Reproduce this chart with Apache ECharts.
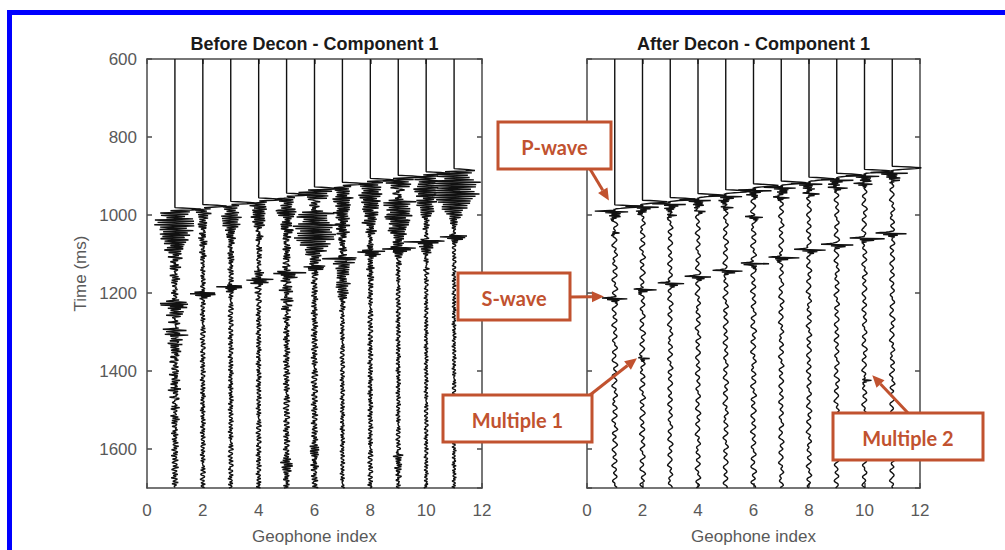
<!DOCTYPE html>
<html>
<head>
<meta charset="utf-8">
<script src="https://cdn.jsdelivr.net/npm/echarts@6/dist/echarts.min.js"></script>
<style>
html,body{margin:0;padding:0;background:#fff;}
#chart{width:1005px;height:550px;}
</style>
</head>
<body>
<div id="chart"></div>
<script>
// ---------------- DATA ----------------
const geophones = [1, 2, 3, 4, 5, 6, 7, 8, 9, 10, 11];
const panelTitles = ['Before Decon - Component 1', 'After Decon - Component 1'];
const timeMin = 600, timeMax = 1700, timeStep = 200;
const indexMin = 0, indexMax = 12, indexStep = 2;

// P first-arrival times (ms) and first-lobe amplitudes (trace units)
const beforeP = [981, 973, 965, 956, 944, 928, 916, 906, 898, 889, 881];
const beforeLobeAmp = [0.9, 0.85, 0.85, 0.85, 0.85, 0.85, 0.85, 0.85, 0.85, 0.85, 0.65];
const afterP = [974, 962, 955, 945, 935, 920, 913, 903, 893, 883, 875];
const afterLobeAmp = [0.95, 0.9, 0.9, 0.9, 0.9, 0.9, 0.9, 0.9, 0.9, 0.95, 1.05];

// ringing events before decon: [geophone, time ms, amplitude]
const beforeRings = [
  [1, 986, 0.55], [1, 1010, 0.4], [1, 1045, 0.3], [1, 1080, 0.2], [1, 1218, 0.3], [1, 1290, 0.28], [1, 1330, 0.18], [1, 1400, 0.15], [1, 1440, 0.15],
  [2, 978, 0.28], [2, 1010, 0.15], [2, 1050, 0.1],
  [3, 970, 0.28], [3, 1000, 0.2], [3, 1040, 0.12], [3, 1090, 0.1],
  [4, 961, 0.3], [4, 990, 0.2], [4, 1030, 0.15], [4, 1130, 0.12],
  [5, 949, 0.3], [5, 980, 0.25], [5, 1020, 0.2], [5, 1060, 0.15], [5, 1130, 0.18], [5, 1190, 0.12], [5, 1620, 0.2],
  [6, 933, 0.6], [6, 960, 0.55], [6, 990, 0.5], [6, 1020, 0.4], [6, 1050, 0.25], [6, 1590, 0.15],
  [7, 921, 0.3], [7, 950, 0.28], [7, 985, 0.25], [7, 1020, 0.22], [7, 1060, 0.18], [7, 1110, 0.35], [7, 1170, 0.15],
  [8, 911, 0.45], [8, 940, 0.32], [8, 975, 0.22], [8, 1010, 0.15], [8, 1075, 0.12], [8, 1130, 0.1],
  [9, 903, 0.55], [9, 930, 0.5], [9, 960, 0.45], [9, 995, 0.35], [9, 1030, 0.2], [9, 1610, 0.15],
  [10, 894, 0.45], [10, 925, 0.3], [10, 960, 0.18], [10, 1060, 0.2],
  [11, 886, 0.65], [11, 910, 0.5], [11, 940, 0.3]
];
// S-wave and other sharp bars before decon: [geophone, time ms, amplitude]
const beforeBars = [
  [1, 1225, 0.55], [2, 1196, 0.5], [3, 1178, 0.45], [4, 1161, 0.5], [5, 1144, 0.5], [6, 1127, 0.45],
  [7, 1106, 0.5], [8, 1089, 0.5], [9, 1081, 0.55], [10, 1063, 0.6], [11, 1050, 0.5],
  [1, 1300, 0.3], [1, 1320, 0.2]
];
// S-wave, multiples and other bars after decon: [geophone, time ms, amplitude]
const afterBars = [
  [1, 1209, 0.5], [2, 1186, 0.45], [3, 1170, 0.5], [4, 1153, 0.5], [5, 1138, 0.55], [6, 1119, 0.55],
  [7, 1104, 0.6], [8, 1084, 0.6], [9, 1071, 0.6], [10, 1055, 0.65], [11, 1042, 0.6],
  [2, 1362, 0.22], [10, 1418, 0.18], [6, 1000, 0.35], [6, 1125, 0.3], [7, 950, 0.3], [8, 940, 0.3],
  [9, 925, 0.3], [10, 915, 0.3], [11, 905, 0.3], [5, 975, 0.25], [4, 985, 0.2], [3, 995, 0.2], [1, 1040, 0.15]
];

// wavelet shapes (estimated), sample steps in ms
const lobeBefore = [0, 0.6, 1.0, 0.7, 0.3, 0];                            // 2 ms
const lobeAfter = [0, 0.6, 1.0, 0.8, 0.35, 0.05, -0.05, 0.05, -0.7, 0.6, -0.3, 0.25, -0.15, 0.15, -0.25, 0.2, -0.1, 0.12, -0.08, 0.06, -0.04, 0]; // 2 ms
const ringWave = [0.3, -0.8, 1.0, -0.95, 0.7, -0.9, 0.85, -0.55, 0.8, -0.75, 0.7, -0.45, 0.65, -0.6, 0.55, -0.58, 0.35, -0.5, 0.48, -0.45,
  0.42, -0.3, 0.38, -0.35, 0.33, -0.3, 0.2, -0.27, 0.24, -0.22, 0.2, -0.12, 0.17, -0.15, 0.12, -0.1, 0.08, -0.06, 0.04, 0]; // 3 ms
const barBefore = [0, -0.4, 0.9, -1.0, 0.8, -0.5, 0.6, -0.3, 0.3, -0.15, 0.1, 0];   // 2 ms
const barAfter = [0, -0.35, -0.9, 1.0, -0.4, 0.45, -0.2, 0.15, -0.08, 0];            // 2 ms

// background wiggle (estimated texture)
const beforeNoise = [0.00, 0.06, -0.04, 0.08, -0.07, 0.03, 0.09, -0.05, -0.08, 0.04, 0.07, -0.02, -0.09, 0.05, 0.02, -0.06, 0.08, -0.03, -0.07, 0.06,
  0.09, -0.04, 0.01, -0.08, 0.05, 0.07, -0.06, -0.02, 0.08, -0.05, 0.04, -0.09, 0.03, 0.06, -0.04, 0.07, -0.08, 0.02, 0.05, -0.06,
  0.09, -0.03, -0.07, 0.04, 0.08, -0.05, 0.02, -0.09, 0.06, 0.03, -0.04, 0.07, -0.06, -0.02, 0.08, -0.07, 0.05, 0.01, -0.08, 0.06,
  -0.03, 0.09, -0.05, 0.04, -0.07, 0.02, 0.06, -0.08, 0.05, -0.01, 0.07, -0.06, 0.03, -0.09, 0.08, -0.04, 0.02, 0.06, -0.07, 0.04,
  -0.05, 0.08, -0.02, -0.06, 0.09, -0.03, 0.05, -0.08, 0.01, 0.07, -0.04, 0.06, -0.09, 0.03, 0.05, -0.06, 0.08, -0.02, -0.07, 0.04,
  0.06, -0.05, 0.09, -0.03, -0.08, 0.05, 0.02, -0.06, 0.07, -0.04, 0.03, -0.09, 0.06, 0.01, -0.05, 0.08, -0.07, 0.04, -0.02, 0.00]; // 3 ms
const afterNoise = [0.00, 0.05, 0.09, 0.07, 0.01, -0.05, -0.08, -0.04, 0.02, 0.04, 0.02, -0.03, -0.07, -0.09, -0.05, 0.03, 0.08, 0.10, 0.06, -0.01,
  -0.04, -0.02, 0.03, 0.06, 0.02, -0.05, -0.09, -0.06, 0.00, 0.04, 0.07, 0.05, 0.00, -0.03, -0.08, -0.10, -0.04, 0.03, 0.05, 0.01,
  -0.02, 0.02, 0.07, 0.09, 0.04, -0.02, -0.06, -0.03, 0.01, -0.03, -0.07, -0.05, 0.02, 0.06, 0.08, 0.03, -0.04, -0.06, -0.02, 0.04,
  0.08, 0.06, 0.00, -0.06, -0.10, -0.07, -0.01, 0.03, 0.01, -0.02, 0.03, 0.07, 0.10, 0.05, -0.03, -0.08, -0.06, 0.00, 0.05, 0.03,
  -0.03, -0.07, -0.04, 0.02, 0.06, 0.09, 0.06, 0.01, -0.05, -0.09, -0.07, -0.02, 0.02, 0.05, 0.02, -0.04, -0.06, -0.01, 0.05, 0.08,
  0.04, -0.02, -0.07, -0.10, -0.05, 0.02, 0.06, 0.04, 0.00, -0.04, -0.02, 0.03, 0.08, 0.06, 0.01, -0.05, -0.08, -0.04, 0.01, 0.00]; // 3 ms
const beforeNoiseShift = [0, 17, 34, 51, 68, 85, 102, 9, 26, 43, 60];
const afterNoiseShift = [0, 23, 46, 69, 92, 11, 34, 57, 80, 103, 6];
const beforeNoiseAmp = [1.5, 1.1, 1.1, 1.1, 1.4, 1.4, 1.0, 1.1, 1.0, 0.9, 0.9];
const afterNoiseAmp = [1.1, 1.1, 1.0, 1.0, 1.0, 1.1, 1.0, 1.0, 1.0, 1.0, 1.0];

// ---------------- LAYOUT / STYLE ----------------
const grids = [
  {left: 147, top: 59, width: 335, height: 430},
  {left: 587, top: 59, width: 333, height: 430}
];
const axisColor = '#4a4a4a';
const labelColor = '#595959';
const annoColor = '#C1522F';
const annotationLayout = [
  {label: 'P-wave', box: [498, 122, 113, 47], from: [590, 169], tip: [0.79, 963]},
  {label: 'S-wave', box: [458, 273, 112, 47], from: [570, 297], tip: [0.61, 1209]},
  {label: 'Multiple 1', box: [443, 395, 149, 47], from: [590, 395], tip: [1.80, 1367]},
  {label: 'Multiple 2', box: [833, 413, 150, 47], from: [908, 413], tip: [10.28, 1411]}
];

// ---------------- BUILD TRACES ----------------
function sampleAt(arr, dt, tau) {
  if (tau < 0) return 0;
  const k = tau / dt, i = Math.floor(k);
  if (i >= arr.length - 1) return 0;
  const f = k - i;
  return arr[i] * (1 - f) + arr[i + 1] * f;
}
function loopAt(arr, dt, tau, shift) {
  const n = arr.length, k = tau / dt + shift, i = Math.floor(k), f = k - i;
  return arr[i % n] * (1 - f) + arr[(i + 1) % n] * f;
}
function buildTrace(cfg, idx) {
  const g = geophones[idx];
  const P = cfg.p[idx];
  const pts = [[g, timeMin]];
  const rings = cfg.rings.filter(r => r[0] === g);
  const bars = cfg.bars.filter(r => r[0] === g);
  for (let t = P - 2; t <= timeMax; t++) {
    let v = cfg.lobeAmp[idx] * sampleAt(cfg.lobe, 2, t - P);
    for (const r of rings) v += r[2] * sampleAt(ringWave, 3, t - r[1]);
    for (const b of bars) v += b[2] * sampleAt(cfg.bar, 2, t - b[1]);
    const ramp = Math.max(0, Math.min(1, (t - P - 6) / 12));
    v += ramp * cfg.noiseAmp[idx] * loopAt(cfg.noise, cfg.noiseDt, Math.max(0, t - P), cfg.shift[idx]);
    pts.push([g + v, t]);
  }
  return pts;
}
const panels = [
  {p: beforeP, lobeAmp: beforeLobeAmp, lobe: lobeBefore, rings: beforeRings, bars: beforeBars, bar: barBefore,
   noise: beforeNoise, noiseDt: 3, shift: beforeNoiseShift, noiseAmp: beforeNoiseAmp, width: 1.4},
  {p: afterP, lobeAmp: afterLobeAmp, lobe: lobeAfter, rings: [], bars: afterBars, bar: barAfter,
   noise: afterNoise, noiseDt: 3, shift: afterNoiseShift, noiseAmp: afterNoiseAmp, width: 1.4}
];

const series = [];
panels.forEach((cfg, pi) => {
  geophones.forEach((g, idx) => {
    series.push({
      type: 'line', xAxisIndex: pi * 2, yAxisIndex: pi * 2,
      data: buildTrace(cfg, idx), symbol: 'none', showSymbol: false, clip: true, silent: true,
      lineStyle: {color: '#111', width: cfg.width}, animation: false
    });
  });
});

const font = '"Liberation Sans", Arial, sans-serif';
const xAxes = [], yAxes = [];
grids.forEach((gr, pi) => {
  const base = {
    gridIndex: pi, type: 'value', min: indexMin, max: indexMax, interval: indexStep,
    axisLine: {show: true, onZero: false, lineStyle: {color: axisColor, width: 1.5}},
    axisTick: {show: true, inside: true, length: 5, lineStyle: {color: axisColor, width: 1.5}},
    splitLine: {show: false}
  };
  xAxes.push(Object.assign({}, base, {
    position: 'bottom',
    axisLabel: {color: labelColor, fontSize: 17, margin: 14, fontFamily: font},
    name: 'Geophone index', nameLocation: 'middle', nameGap: 40,
    nameTextStyle: {color: labelColor, fontSize: 17, fontFamily: font}
  }));
  xAxes.push(Object.assign({}, base, {position: 'top', axisLabel: {show: false}}));
  const ybase = {
    gridIndex: pi, type: 'value', inverse: true, min: timeMin, max: timeMax, interval: timeStep,
    axisLine: {show: true, onZero: false, lineStyle: {color: axisColor, width: 1.5}},
    axisTick: {show: true, inside: true, length: 5, lineStyle: {color: axisColor, width: 1.5}},
    splitLine: {show: false}
  };
  yAxes.push(Object.assign({}, ybase, {
    position: 'left',
    axisLabel: {show: pi === 0, color: labelColor, fontSize: 17, margin: 10, fontFamily: font,
      showMaxLabel: false, formatter: v => String(v)},
    name: pi === 0 ? 'Time (ms)' : '', nameLocation: 'middle', nameGap: 58, nameRotate: 90,
    nameTextStyle: {color: labelColor, fontSize: 17, fontFamily: font}
  }));
  yAxes.push(Object.assign({}, ybase, {position: 'right', axisLabel: {show: false}}));
});

const chart = echarts.init(document.getElementById('chart'), null, {renderer: 'svg'});
chart.setOption({
  animation: false,
  grid: grids,
  xAxis: xAxes,
  yAxis: yAxes,
  series: series
});

// ---------------- GRAPHICS: frame, titles, annotations ----------------
const gfx = [];
gfx.push({type: 'rect', shape: {x: 9.5, y: 12.5, width: 1100, height: 700},
  style: {fill: 'none', stroke: '#0000FF', lineWidth: 5}, z: 50, silent: true});
panelTitles.forEach((t, pi) => {
  gfx.push({type: 'text', z: 50, silent: true,
    style: {text: t, x: grids[pi].left + grids[pi].width / 2, y: 44, align: 'center', verticalAlign: 'middle',
      font: 'bold 18px ' + font, fill: '#1a1a1a'}});
});
annotationLayout.forEach(a => {
  const [bx, by, bw, bh] = a.box;
  const tip = chart.convertToPixel({gridIndex: 1}, a.tip);
  const dx = tip[0] - a.from[0], dy = tip[1] - a.from[1];
  const len = Math.sqrt(dx * dx + dy * dy), ux = dx / len, uy = dy / len;
  const hl = 12, hw = 5.5;
  const bxp = tip[0] - ux * hl, byp = tip[1] - uy * hl;
  gfx.push({type: 'line', z: 60, silent: true, shape: {x1: a.from[0], y1: a.from[1], x2: bxp, y2: byp},
    style: {stroke: annoColor, lineWidth: 3}});
  gfx.push({type: 'polygon', z: 60, silent: true,
    shape: {points: [[tip[0], tip[1]], [bxp - uy * hw, byp + ux * hw], [bxp + uy * hw, byp - ux * hw]]},
    style: {fill: annoColor}});
  gfx.push({type: 'rect', z: 61, silent: true, shape: {x: bx, y: by, width: bw, height: bh},
    style: {fill: '#fff', stroke: annoColor, lineWidth: 3}});
  gfx.push({type: 'text', z: 62, silent: true,
    style: {text: a.label, x: bx + bw / 2, y: by + bh / 2 + 1, align: 'center', verticalAlign: 'middle',
      font: 'bold 20px Lato, "Open Sans", sans-serif', fill: annoColor}});
});
chart.setOption({graphic: gfx});
</script>
</body>
</html>
